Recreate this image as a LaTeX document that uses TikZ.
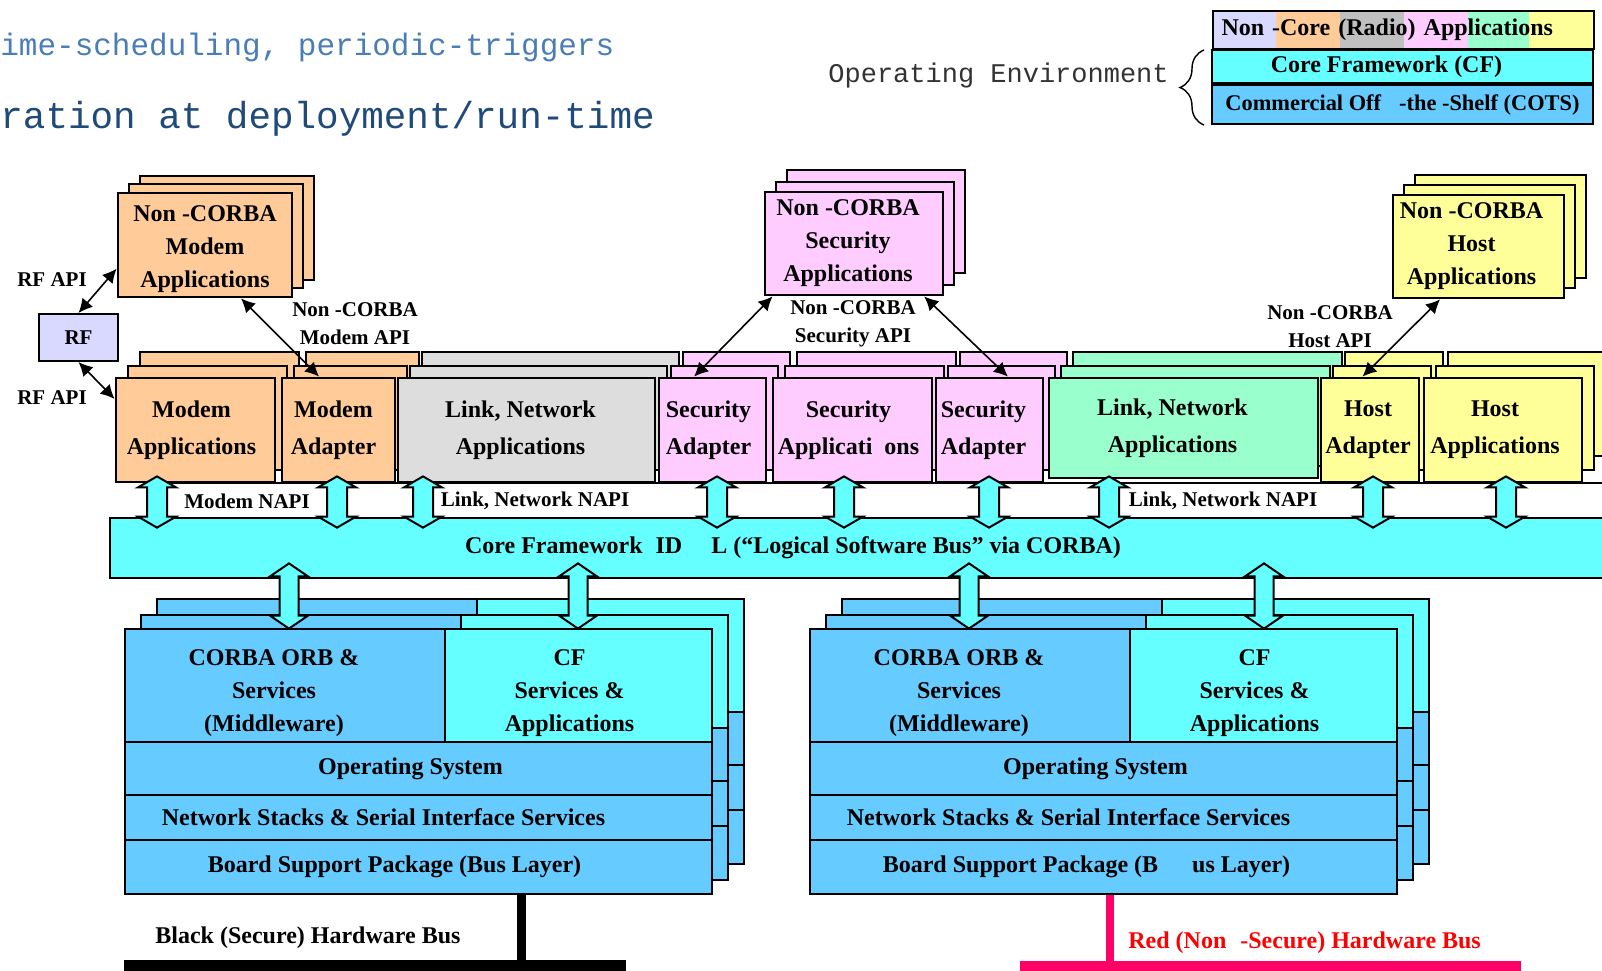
\documentclass[tikz,border=0pt]{standalone}
\usepackage{fontspec}
\setmainfont{Liberation Serif}
\newfontfamily\monofam{Liberation Mono}
\usetikzlibrary{arrows.meta,calc,decorations.pathreplacing}

\definecolor{modemorange}{HTML}{FFCC99}
\definecolor{linkgray}{HTML}{DDDDDD}
\definecolor{legendgray}{HTML}{C0C0C0}
\definecolor{secpink}{HTML}{FFCCFF}
\definecolor{netgreen}{HTML}{99FFCC}
\definecolor{hostyellow}{HTML}{FFFF99}
\definecolor{rflav}{HTML}{D9D9FF}
\definecolor{cfcyan}{HTML}{66FFFF}
\definecolor{cotsblue}{HTML}{66CCFF}
\definecolor{redbus}{HTML}{FF0066}
\definecolor{titleblue}{HTML}{4A7DB5}
\definecolor{titlenavy}{HTML}{1F4A7A}
\definecolor{envgray}{HTML}{333333}

\tikzset{
  outline/.style={draw=black, line width=1.4pt},
  appbox/.style={outline, inner sep=0pt, align=center, font=\fontsize{12}{18.5}\selectfont\bfseries},
  ncbox/.style={outline, inner sep=0pt, align=center, font=\fontsize{12}{16.5}\selectfont\bfseries},
  layerbox/.style={outline, inner sep=0pt, align=center, font=\fontsize{12}{16.5}\selectfont\bfseries},
  apilabel/.style={align=center, inner sep=0pt, font=\fontsize{10.5}{14}\selectfont\bfseries},
  link/.style={line width=0.8pt, {Latex[length=7pt,width=7pt]}-{Latex[length=7pt,width=7pt]}},
  blockarrow/.style={draw=black, line width=1pt, fill=cfcyan, line join=miter},
  legendbox/.style={draw=black, line width=1pt, inner sep=0pt, font=\fontsize{12}{14}\selectfont\bfseries},
  buslabel/.style={inner sep=0pt, anchor=west, font=\fontsize{12}{14}\selectfont\bfseries},
}

% text line moved left by #1 px inside a centred box
\newcommand\lft[2]{\hbox{#2\kern#1pt}}

% three-deep stack of application boxes: name, x1, y1, x2, y2 (px), fill, style, text
\newcommand\appstack[8]{%
  \filldraw[outline, fill=#6] ({#2+\backBx},{#3-\backBy}) rectangle ({#4+\backBx},{#5-\backBy});
  \filldraw[outline, fill=#6] ({#2+\backAx},{#3-\backAy}) rectangle ({#4+\backAx},{#5-\backAy});
  \node[#7, fill=#6, minimum width={(#4-#2)*0.5pt}, minimum height={(#5-#3)*0.5pt}]
    (#1) at ({(#2+#4)/2},{(#3+#5)/2}) {#8};}

% vertical double-headed block arrow: x (px), top tip, bottom tip, shaft half width, head half width, head length
\newcommand\vblock[6]{%
  \filldraw[blockarrow] let \p1=(#1,0), \p2=(#2), \p3=(#3) in
    ({\x1-#4},{\y2-#6}) -- ({\x1-#5},{\y2-#6}) -- (\x1,\y2) -- ({\x1+#5},{\y2-#6}) -- ({\x1+#4},{\y2-#6})
    -- ({\x1+#4},{\y3+#6}) -- ({\x1+#5},{\y3+#6}) -- (\x1,\y3) -- ({\x1-#5},{\y3+#6}) -- ({\x1-#4},{\y3+#6}) -- cycle;}

% one hidden copy of a processor layer stack, shifted right / up (px)
\newcommand\platformshell[2]{%
  \begin{scope}[shift={(#1,-#2)}]
    \filldraw[outline, fill=cotsblue] (125,629) rectangle (445,742);
    \filldraw[outline, fill=cfcyan] (445,629) rectangle (712,742);
    \filldraw[outline, fill=cotsblue] (125,742) rectangle (712,795);
    \filldraw[outline, fill=cotsblue] (125,795) rectangle (712,840);
    \filldraw[outline, fill=cotsblue] (125,840) rectangle (712,894);
  \end{scope}}

% full processor stack: name prefix, x offset (px), board support text
\newcommand\platform[3]{%
  \begin{scope}[shift={(#2,0)}]
    \platformshell{32}{30}
    \platformshell{16}{14}
    \node[layerbox, fill=cotsblue, minimum width=160pt, minimum height=56.5pt] (#1orb) at (285,685.5)
      {\rule{0pt}{15.2pt}\lft{11}{CORBA ORB \&}\\\lft{11}{Services}\\\lft{11}{(Middleware)}};
    \node[layerbox, fill=cfcyan, minimum width=133.5pt, minimum height=56.5pt] (#1cf) at (578.5,685.5)
      {\rule{0pt}{15.2pt}\lft{9}{CF}\\\lft{9}{Services \&}\\\lft{9}{Applications}};
    \node[layerbox, fill=cotsblue, minimum width=293.5pt, minimum height=26.5pt] (#1os) at (418.5,768.5) {\lft{8}{Operating System}};
    \node[layerbox, fill=cotsblue, minimum width=293.5pt, minimum height=22.5pt] (#1net) at (418.5,817.5) {\lft{35}{Network Stacks \& Serial Interface Services}};
    \node[layerbox, fill=cotsblue, minimum width=293.5pt, minimum height=27pt] (#1bsp) at (418.5,867) {#3};
  \end{scope}}

\begin{document}
\begin{tikzpicture}[x=0.5pt,y=-0.5pt]
\useasboundingbox (0,0) rectangle (1602,970);

% heading lines
\node[anchor=base west, inner sep=0pt, text=titleblue, font=\monofam\fontsize{15.5}{18}\selectfont] (head1) at (0,55) {ime-scheduling, periodic-triggers};
\node[anchor=base west, inner sep=0pt, text=titlenavy, font=\monofam\fontsize{18.8}{22}\selectfont] (head2) at (0,128) {ration at deployment/run-time};

% legend
\node[anchor=base west, inner sep=0pt, text=envgray, font=\monofam\fontsize{13.5}{16}\selectfont] (openv) at (828,82) {Operating Environment};
\draw[decorate, decoration={brace, amplitude=12pt}, line width=0.7pt] (1204,125) -- (1204,50);
\fill[rflav] (1212,10) rectangle (1276,48);
\fill[modemorange] (1276,10) rectangle (1340,48);
\fill[legendgray] (1340,10) rectangle (1404,48);
\fill[secpink] (1404,10) rectangle (1468,48);
\fill[netgreen] (1468,10) rectangle (1529,48);
\fill[hostyellow] (1529,10) rectangle (1593,48);
\node[legendbox, anchor=north west, minimum width=190.5pt, minimum height=19pt, text width=182pt, inner xsep=4pt, align=left] (legapps) at (1212,10) {Non -Core (Radio) Applications};
\node[legendbox, fill=cfcyan, minimum width=190.5pt, minimum height=16.5pt] (legcf) at (1402.5,66.5) {\lft{16}{Core Framework (CF)}};
\node[legendbox, fill=cotsblue, minimum width=190.5pt, minimum height=19.5pt, font=\fontsize{11.2}{14}\selectfont\bfseries] (legcots) at (1402.5,104.5) {Commercial Off\hspace{9pt}-the -Shelf (COTS)};

% non-CORBA application stacks
\def\backAx{11}\def\backAy{9}\def\backBx{22}\def\backBy{17}
\appstack{ncm}{118}{193}{292}{297}{modemorange}{ncbox}{\rule{0pt}{12pt}Non -CORBA\\Modem\\Applications}
\def\backAx{11}\def\backAy{10}\def\backBx{22}\def\backBy{22}
\appstack{ncs}{765}{192}{943}{295}{secpink}{ncbox}{\lft{6}{Non -CORBA}\\\lft{6}{Security}\\\lft{6}{Applications}}
\def\backAx{11}\def\backAy{10}\def\backBx{22}\def\backBy{20}
\appstack{nch}{1393}{195}{1564}{298}{hostyellow}{ncbox}{\lft{7}{Non -CORBA}\\\lft{7}{Host}\\\lft{7}{Applications}}

% RF front end
\node[draw=black, line width=1pt, fill=rflav, minimum width=39.5pt, minimum height=23.5pt, inner sep=0pt, font=\fontsize{10.5}{12}\selectfont\bfseries] (rf) at (78.5,337.5) {RF};

% CORBA-capable application row
\def\backAx{12}\def\backAy{12}\def\backBx{24}\def\backBy{26}
\appstack{ma}{116}{378}{275}{482}{modemorange}{appbox}{\lft{4}{Modem}\\\lft{4}{Applications}}
\appstack{mad}{282}{378}{395}{482}{modemorange}{appbox}{\lft{5}{Modem}\\\lft{5}{Adapter}}
\appstack{lna}{398}{378}{655}{482}{linkgray}{appbox}{\lft{6}{Link, Network}\\\lft{6}{Applications}}
\appstack{sa1}{659}{378}{766}{482}{secpink}{appbox}{\lft{4}{Security}\\\lft{4}{Adapter}}
\appstack{sap}{773}{378}{932}{482}{secpink}{appbox}{\lft{4}{Security}\\\lft{4}{Applicati\hspace{6pt}ons}}
\appstack{sa2}{936}{378}{1043}{482}{secpink}{appbox}{\lft{6}{Security}\\\lft{6}{Adapter}}
\appstack{lnb}{1049}{378}{1318}{478}{netgreen}{appbox}{\lft{11}{Link, Network}\\\lft{11}{Applications}}
\appstack{ha}{1321}{378}{1419}{482}{hostyellow}{appbox}{\lft{2}{Host}\\\lft{2}{Adapter}}
\appstack{hap}{1424}{378}{1582}{482}{hostyellow}{appbox}{\lft{8}{Host}\\\lft{8}{Applications}}

% NAPI strip and the core framework bus
\node[draw=black, line width=1pt, fill=white, anchor=north west, minimum width=726.5pt, minimum height=17.5pt, inner sep=0pt] (napi) at (157,482) {};
\node[outline, fill=cfcyan, minimum width=750pt, minimum height=30pt, inner sep=0pt, font=\fontsize{12}{14}\selectfont\bfseries] (bus) at (860,548)
  {\lft{67}{Core Framework\hspace{6.5pt}ID\hspace{14.5pt}L (“Logical Software Bus” via CORBA)}};
\node[apilabel] (mnapi) at (247,501) {Modem NAPI};
\node[apilabel] (lnapi1) at (535,501) {Link, Network NAPI};
\node[apilabel] (lnapi2) at (1223,501) {Link, Network NAPI};

% application <-> bus interfaces
\vblock{157}{[yshift=3.5pt]ma.south}{[yshift=-5.5pt]bus.north}{5pt}{9.5pt}{5.5pt}
\vblock{337}{[yshift=3.5pt]mad.south}{[yshift=-5.5pt]bus.north}{5pt}{9.5pt}{5.5pt}
\vblock{423}{[yshift=3.5pt]lna.south}{[yshift=-5.5pt]bus.north}{5pt}{9.5pt}{5.5pt}
\vblock{717}{[yshift=3.5pt]sa1.south}{[yshift=-5.5pt]bus.north}{5pt}{9.5pt}{5.5pt}
\vblock{844}{[yshift=3.5pt]sap.south}{[yshift=-5.5pt]bus.north}{5pt}{9.5pt}{5.5pt}
\vblock{989}{[yshift=3.5pt]sa2.south}{[yshift=-5.5pt]bus.north}{5pt}{9.5pt}{5.5pt}
\vblock{1109}{[yshift=1.5pt]lnb.south}{[yshift=-5.5pt]bus.north}{5pt}{9.5pt}{5.5pt}
\vblock{1373}{[yshift=3.5pt]ha.south}{[yshift=-5.5pt]bus.north}{5pt}{9.5pt}{5.5pt}
\vblock{1506}{[yshift=3.5pt]hap.south}{[yshift=-5.5pt]bus.north}{5pt}{9.5pt}{5.5pt}

% processor stacks
\platform{l}{0}{\lft{24}{Board Support Package (Bus Layer)}}
\platform{r}{685}{\lft{17}{Board Support Package (B\hspace{17pt}us Layer)}}

% bus <-> processor interfaces
\vblock{289}{[yshift=8pt]bus.south}{[yshift=-0.5pt]lorb.north}{4.75pt}{9.5pt}{6.5pt}
\vblock{578}{[yshift=8pt]bus.south}{[yshift=-0.5pt]lcf.north}{4.75pt}{9.5pt}{6.5pt}
\vblock{969}{[yshift=8pt]bus.south}{[yshift=-0.5pt]rorb.north}{4.75pt}{9.5pt}{6.5pt}
\vblock{1264}{[yshift=8pt]bus.south}{[yshift=-0.5pt]rcf.north}{4.75pt}{9.5pt}{6.5pt}

% hardware buses
\node[fill=black, anchor=north west, minimum width=251pt, minimum height=5.5pt, inner sep=0pt] (blackbar) at (124,960) {};
\node[fill=redbus, anchor=north west, minimum width=250.5pt, minimum height=5pt, inner sep=0pt] (redbar) at (1020,961) {};
\coordinate (ldrop) at ($(lbsp.south west)!0.675!(lbsp.south east)$);
\coordinate (rdrop) at ($(rbsp.south west)!0.511!(rbsp.south east)$);
\draw[line width=4.5pt] (ldrop) -- (ldrop |- blackbar.north);
\draw[line width=4pt, redbus] (rdrop) -- (rdrop |- redbar.north);
\node[buslabel] (blacklbl) at (155,938) {Black (Secure) Hardware Bus};
\node[buslabel, text=red] (redlbl) at (1128,943) {Red (Non\hspace{7pt}-Secure) Hardware Bus};

% non-CORBA interfaces
\draw[link] (rf.north) -- (ncm.195);
\draw[link] (rf.south) -- (ma.159);
\draw[link] (ncm.304) -- (mad.110);
\draw[link] (ncs.213) -- (sa1.109);
\draw[link] (ncs.323) -- (sa2.71);
\draw[link] (nch.234) -- (ha.98);
\node[apilabel] (rfapi1) at (52,280) {RF API};
\node[apilabel] (rfapi2) at (52,398) {RF API};
\node[apilabel] (mapi) at (355,324) {Non -CORBA\\Modem API};
\node[apilabel] (sapi) at (853,324) {Non -CORBA\\Security API};
\node[apilabel] (hapi) at (1330,327) {Non -CORBA\\Host API};
\end{tikzpicture}
\end{document}
